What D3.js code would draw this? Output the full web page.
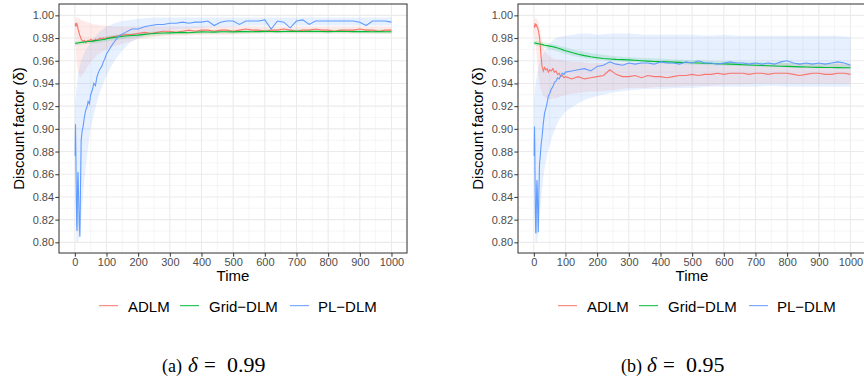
<!DOCTYPE html>
<html>
<head>
<meta charset="utf-8">
<script src="https://cdn.jsdelivr.net/npm/d3@7"></script>
<style>
body { margin: 0; background: #fff; }
svg text { font-family: "Liberation Sans", Arial, sans-serif; }
svg text.cap { font-family: "Liberation Serif", "DejaVu Serif", serif; }
</style>
</head>
<body>
<div id="chart"></div>
<script>
// time grid shared by all mean lines
var timeSteps = [1,2,3,4,5,6,7,8,9,10,
  12,14,16,18,20,23,26,30,34,38,
  42,46,50,55,60,65,70,75,80,85,
  90,95,100,120,140,160,180,200,220,240,
  260,280,300,320,340,360,380,400,420,440,
  460,480,500,520,540,560,580,600,620,640,
  660,680,700,720,740,760,780,800,820,840,
  860,880,900,920,940,960,980,1000];

// coarser grid for the credible bands
var bandSteps = [1,5,10,15,20,30,40,50,60,70,80,100,125,150,175,200,250,300,350,400,450,500,550,600,650,700,750,800,850,900,950,1000];

// (a) delta = 0.99
var adlmA = [0.991,0.992,0.991,0.990,0.993,0.993,0.992,0.991,0.990,0.988,
  0.986,0.984,0.982,0.981,0.979,0.978,0.977,0.978,0.976,0.977,
  0.978,0.977,0.979,0.978,0.977,0.979,0.978,0.979,0.980,0.979,
  0.980,0.979,0.980,0.981,0.982,0.983,0.983,0.984,0.985,0.984,
  0.985,0.986,0.986,0.985,0.986,0.987,0.986,0.987,0.987,0.986,
  0.987,0.987,0.986,0.987,0.988,0.987,0.987,0.986,0.987,0.987,
  0.988,0.987,0.986,0.987,0.987,0.988,0.987,0.987,0.986,0.987,
  0.987,0.987,0.988,0.987,0.987,0.986,0.987,0.987];
var gridA = [0.9753,0.9753,0.9754,0.9754,0.9754,0.9755,0.9755,0.9755,0.9756,0.9756,
  0.9758,0.9759,0.9760,0.9761,0.9762,0.9763,0.9764,0.9765,0.9767,0.9768,
  0.9769,0.9770,0.9771,0.9773,0.9775,0.9777,0.9779,0.9781,0.9783,0.9785,
  0.9787,0.9790,0.9795,0.9804,0.9812,0.9818,0.9822,0.9826,0.9832,0.9838,
  0.9842,0.9844,0.9846,0.9848,0.9850,0.9847,0.9851,0.9854,0.9853,0.9852,
  0.9855,0.9856,0.9854,0.9857,0.9858,0.9856,0.9857,0.9859,0.9858,0.9857,
  0.9858,0.9860,0.9859,0.9858,0.9859,0.9860,0.9858,0.9857,0.9858,0.9859,
  0.9858,0.9857,0.9858,0.9857,0.9856,0.9857,0.9856,0.9856];
var plA = [0.876,0.904,0.885,0.860,0.835,0.815,0.810,0.835,0.855,0.862,
  0.840,0.815,0.805,0.850,0.890,0.898,0.902,0.910,0.916,0.919,
  0.924,0.922,0.930,0.934,0.940,0.938,0.946,0.950,0.953,0.955,
  0.959,0.962,0.966,0.975,0.982,0.985,0.988,0.988,0.990,0.991,
  0.992,0.992,0.993,0.993,0.994,0.993,0.994,0.994,0.995,0.991,
  0.994,0.995,0.995,0.992,0.995,0.995,0.995,0.996,0.988,0.995,
  0.994,0.989,0.995,0.996,0.992,0.995,0.995,0.995,0.995,0.995,
  0.995,0.995,0.994,0.991,0.995,0.995,0.995,0.994];

var adlmALo = [0.985,0.960,0.950,0.946,0.946,0.950,0.955,0.959,0.962,0.965,0.967,0.970,0.973,0.975,0.977,0.979,0.981,0.982,0.982,0.983,0.983,0.983,0.984,0.984,0.984,0.984,0.984,0.984,0.984,0.984,0.984,0.984];
var adlmAHi = [0.996,0.998,0.998,0.997,0.996,0.995,0.994,0.993,0.992,0.992,0.991,0.991,0.990,0.990,0.990,0.990,0.990,0.990,0.990,0.990,0.990,0.990,0.990,0.990,0.990,0.990,0.990,0.990,0.990,0.990,0.990,0.990];
var gridALo = [0.9735,0.9737,0.9738,0.9740,0.9742,0.9745,0.9748,0.9751,0.9754,0.9757,0.9760,0.9770,0.9780,0.9790,0.9800,0.9806,0.9818,0.9828,0.9833,0.9837,0.9839,0.9840,0.9841,0.9842,0.9843,0.9843,0.9843,0.9842,0.9842,0.9842,0.9841,0.9841];
var gridAHi = [0.9771,0.9772,0.9773,0.9775,0.9777,0.9780,0.9784,0.9788,0.9792,0.9796,0.9800,0.9815,0.9828,0.9836,0.9842,0.9846,0.9858,0.9865,0.9868,0.9871,0.9873,0.9874,0.9875,0.9876,0.9877,0.9877,0.9877,0.9876,0.9876,0.9875,0.9875,0.9874];
var plALo = [0.862,0.800,0.800,0.805,0.820,0.855,0.880,0.900,0.913,0.924,0.933,0.947,0.960,0.969,0.976,0.980,0.985,0.987,0.988,0.989,0.990,0.990,0.991,0.991,0.991,0.991,0.991,0.991,0.991,0.991,0.991,0.991];
var plAHi = [0.920,0.935,0.948,0.955,0.960,0.967,0.972,0.976,0.980,0.983,0.986,0.990,0.993,0.995,0.996,0.997,0.998,0.998,0.998,0.998,0.998,0.998,0.998,0.998,0.998,0.998,0.998,0.998,0.998,0.998,0.998,0.998];

// (b) delta = 0.95
var adlmB = [0.991,0.990,0.991,0.993,0.992,0.991,0.992,0.990,0.991,0.990,
  0.989,0.987,0.984,0.980,0.975,0.963,0.955,0.951,0.954,0.952,
  0.953,0.950,0.952,0.951,0.953,0.950,0.951,0.948,0.949,0.946,
  0.947,0.945,0.946,0.944,0.946,0.944,0.945,0.946,0.947,0.952,
  0.948,0.946,0.946,0.947,0.945,0.947,0.946,0.946,0.945,0.946,
  0.947,0.947,0.948,0.947,0.948,0.948,0.949,0.948,0.949,0.949,
  0.949,0.948,0.949,0.949,0.948,0.949,0.949,0.949,0.948,0.947,
  0.948,0.949,0.949,0.948,0.948,0.949,0.949,0.948];
var gridB = [0.9756,0.9756,0.9755,0.9755,0.9755,0.9754,0.9754,0.9753,0.9753,0.9752,
  0.9751,0.9750,0.9749,0.9748,0.9747,0.9745,0.9743,0.9740,0.9737,0.9735,
  0.9733,0.9731,0.9729,0.9727,0.9724,0.9720,0.9716,0.9712,0.9708,0.9703,
  0.9698,0.9693,0.9688,0.9672,0.9658,0.9645,0.9635,0.9627,0.9620,0.9616,
  0.9612,0.9610,0.9608,0.9604,0.9600,0.9597,0.9594,0.9592,0.9590,0.9588,
  0.9586,0.9584,0.9582,0.9580,0.9578,0.9576,0.9574,0.9572,0.9570,0.9568,
  0.9565,0.9562,0.9560,0.9558,0.9556,0.9554,0.9552,0.9550,0.9548,0.9546,
  0.9545,0.9543,0.9542,0.9541,0.9540,0.9539,0.9538,0.9538];
var plB = [0.876,0.902,0.885,0.850,0.822,0.809,0.808,0.830,0.848,0.855,
  0.832,0.809,0.845,0.869,0.875,0.886,0.893,0.905,0.914,0.918,
  0.923,0.929,0.931,0.935,0.937,0.941,0.942,0.945,0.944,0.947,
  0.949,0.948,0.950,0.951,0.952,0.953,0.951,0.955,0.956,0.959,
  0.957,0.956,0.958,0.957,0.958,0.958,0.957,0.959,0.958,0.958,
  0.957,0.959,0.958,0.960,0.958,0.958,0.957,0.958,0.959,0.958,
  0.958,0.957,0.958,0.957,0.958,0.957,0.959,0.960,0.958,0.957,
  0.958,0.957,0.958,0.957,0.958,0.959,0.958,0.956];

var adlmBLo = [0.985,0.975,0.962,0.947,0.936,0.929,0.927,0.926,0.927,0.927,0.928,0.930,0.931,0.932,0.933,0.933,0.934,0.936,0.936,0.937,0.937,0.938,0.938,0.939,0.939,0.940,0.940,0.940,0.940,0.940,0.940,0.940];
var adlmBHi = [0.996,0.998,0.997,0.994,0.986,0.972,0.966,0.964,0.962,0.961,0.961,0.960,0.959,0.959,0.958,0.958,0.958,0.958,0.958,0.958,0.958,0.958,0.958,0.958,0.958,0.958,0.958,0.958,0.958,0.958,0.958,0.958];
var gridBLo = [0.9738,0.9736,0.9733,0.9729,0.9725,0.9718,0.9710,0.9702,0.9694,0.9686,0.9678,0.9660,0.9642,0.9628,0.9618,0.9610,0.9598,0.9590,0.9584,0.9578,0.9572,0.9568,0.9563,0.9558,0.9554,0.9550,0.9546,0.9542,0.9539,0.9536,0.9533,0.9530];
var gridBHi = [0.9774,0.9775,0.9774,0.9771,0.9768,0.9763,0.9758,0.9752,0.9746,0.9739,0.9732,0.9718,0.9700,0.9684,0.9670,0.9660,0.9642,0.9630,0.9624,0.9618,0.9612,0.9606,0.9601,0.9596,0.9592,0.9588,0.9584,0.9580,0.9577,0.9574,0.9571,0.9568];
var plBLo = [0.862,0.800,0.800,0.808,0.828,0.858,0.875,0.886,0.895,0.902,0.908,0.915,0.920,0.924,0.927,0.929,0.932,0.934,0.935,0.935,0.936,0.936,0.937,0.937,0.937,0.937,0.938,0.937,0.937,0.937,0.937,0.937];
var plBHi = [0.925,0.938,0.948,0.955,0.960,0.966,0.971,0.975,0.978,0.980,0.981,0.982,0.983,0.984,0.984,0.983,0.984,0.984,0.983,0.983,0.983,0.983,0.982,0.983,0.982,0.982,0.982,0.982,0.982,0.982,0.982,0.981];

var seriesNames = ["ADLM", "Grid\u2212DLM", "PL\u2212DLM"];
var seriesColors = ["#F8766D", "#00BA38", "#619CFF"];

var xTicks = [0,100,200,300,400,500,600,700,800,900,1000];
var xMinor = [-50,50,150,250,350,450,550,650,750,850,950,1050];
var yTicks = [0.80,0.82,0.84,0.86,0.88,0.90,0.92,0.94,0.96,0.98,1.00];
var yMinor = [0.79,0.81,0.83,0.85,0.87,0.89,0.91,0.93,0.95,0.97,0.99,1.01];

var w = 864, h = 378;
var pw = 348, ph = 249;

var svg = d3.select("#chart").append("svg").attr("width", w).attr("height", h);

var xScale = d3.scaleLinear().domain([-50, 1049]).range([0, pw]);
var yScale = d3.scaleLinear().domain([0.7906, 1.0100]).range([ph, 0]);

function drawPanel(left, id, label, delta, means, los, his) {
    var g = svg.append("g").attr("transform", "translate(" + left + ",4)");

    g.append("clipPath").attr("id", "clip" + id)
        .append("rect").attr("width", pw).attr("height", ph);

    // grid
    g.selectAll(".vminor").data(xMinor).enter().append("line")
        .attr("x1", d => xScale(d)).attr("x2", d => xScale(d))
        .attr("y1", 0).attr("y2", ph)
        .style("stroke", "#F0F0F0").style("stroke-width", 0.6);
    g.selectAll(".hminor").data(yMinor).enter().append("line")
        .attr("y1", d => yScale(d)).attr("y2", d => yScale(d))
        .attr("x1", 0).attr("x2", pw)
        .style("stroke", "#F0F0F0").style("stroke-width", 0.6);
    g.selectAll(".vmajor").data(xTicks).enter().append("line")
        .attr("x1", d => xScale(d)).attr("x2", d => xScale(d))
        .attr("y1", 0).attr("y2", ph)
        .style("stroke", "#EBEBEB").style("stroke-width", 1.1);
    g.selectAll(".hmajor").data(yTicks).enter().append("line")
        .attr("y1", d => yScale(d)).attr("y2", d => yScale(d))
        .attr("x1", 0).attr("x2", pw)
        .style("stroke", "#EBEBEB").style("stroke-width", 1.1);

    var plot = g.append("g").attr("clip-path", "url(#clip" + id + ")");

    var band = d3.area()
        .x((d, i) => xScale(bandSteps[i]))
        .y0(d => yScale(d[0]))
        .y1(d => yScale(d[1]));

    var line = d3.line()
        .x((d, i) => xScale(timeSteps[i]))
        .y(d => yScale(d));

    for (var k = 0; k < 3; k++) {
        var pairs = los[k].map((v, i) => [v, his[k][i]]);
        plot.append("path").datum(pairs)
            .attr("d", band)
            .style("fill", seriesColors[k])
            .style("fill-opacity", 0.15)
            .style("stroke", "none");
    }
    for (var k = 0; k < 3; k++) {
        plot.append("path").datum(means[k])
            .attr("d", line)
            .style("fill", "none")
            .style("stroke", seriesColors[k])
            .style("stroke-width", 1.1);
    }

    // border
    g.append("rect").attr("width", pw).attr("height", ph)
        .style("fill", "none").style("stroke", "#333333").style("stroke-width", 1);

    var xAxis = d3.axisBottom(xScale).tickValues(xTicks).tickFormat(d3.format("d")).tickSize(3.7).tickPadding(1.2);
    var yAxis = d3.axisLeft(yScale).tickValues(yTicks).tickFormat(d3.format(".2f")).tickSize(3.7).tickPadding(1.2);

    var xg = g.append("g").attr("transform", "translate(0," + ph + ")").call(xAxis);
    var yg = g.append("g").call(yAxis);
    [xg, yg].forEach(a => {
        a.select(".domain").remove();
        a.selectAll("line").style("stroke", "#333333");
        a.selectAll("text").style("fill", "#4D4D4D").style("font-size", "11px")
            .style("font-family", "'Liberation Sans', Arial, sans-serif");
    });

    g.append("text")
        .attr("x", pw / 2).attr("y", 277)
        .attr("text-anchor", "middle")
        .style("font-size", "15px")
        .text("Time");

    g.append("text")
        .attr("transform", "translate(" + (-35.5) + "," + (ph / 2) + ") rotate(-90)")
        .attr("text-anchor", "middle")
        .style("font-size", "15px")
        .text("Discount factor (\u03b4)");

    // legend
    var keyX = [40, 121, 231];
    var textX = [69, 150, 259];
    for (var k = 0; k < 3; k++) {
        g.append("line")
            .attr("x1", keyX[k]).attr("x2", keyX[k] + 19)
            .attr("y1", 301.7).attr("y2", 301.7)
            .style("stroke", seriesColors[k]).style("stroke-width", 1);
        g.append("text")
            .attr("x", textX[k]).attr("y", 307.5)
            .style("font-size", "15px")
            .text(seriesNames[k]);
    }

    // caption
    g.append("text").attr("class", "cap").attr("x", 103).attr("y", 367.5).style("font-size", "18px").text(label);
    g.append("text").attr("class", "cap").attr("x", 129).attr("y", 367.5).style("font-size", "21px").style("font-style", "italic").text("\u03b4");
    g.append("text").attr("class", "cap").attr("x", 145).attr("y", 367.5).style("font-size", "21px").text("=");
    g.append("text").attr("class", "cap").attr("x", 168).attr("y", 367.5).style("font-size", "22px").text(delta);
}

drawPanel(59, "a", "(a)", "0.99", [adlmA, gridA, plA], [adlmALo, gridALo, plALo], [adlmAHi, gridAHi, plAHi]);
drawPanel(518, "b", "(b)", "0.95", [adlmB, gridB, plB], [adlmBLo, gridBLo, plBLo], [adlmBHi, gridBHi, plBHi]);
</script>
</body>
</html>
